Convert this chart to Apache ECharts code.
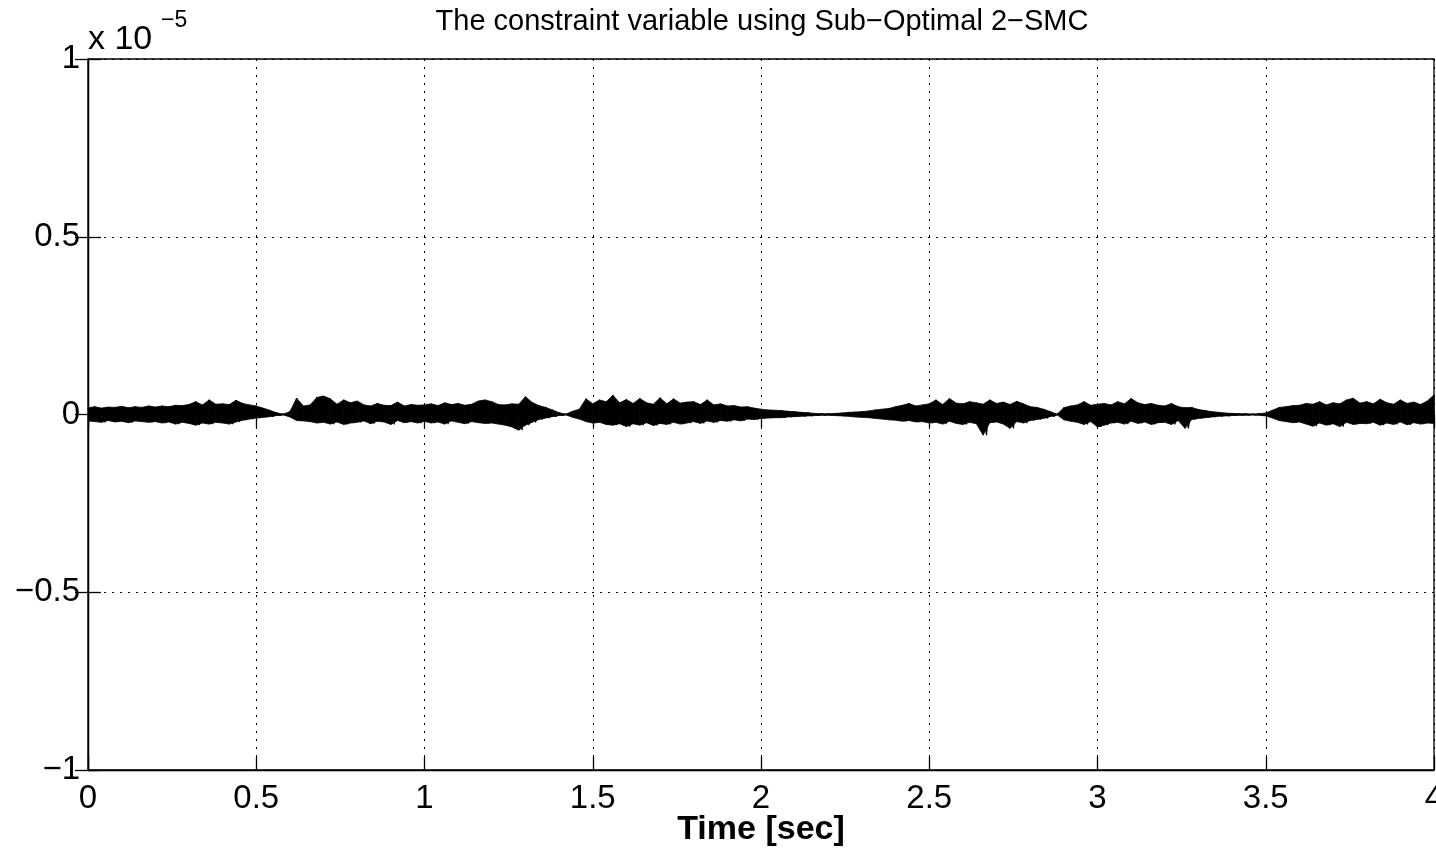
<!DOCTYPE html>
<html><head><meta charset="utf-8">
<script src="https://cdn.jsdelivr.net/npm/echarts@6/dist/echarts.min.js"></script>
<style>html,body{margin:0;padding:0;background:#fff}#c{width:1436px;height:850px}</style>
</head><body><div id="c"></div>
<script>
// ---- data ----
const titleText = 'The constraint variable using Sub\u2212Optimal 2\u2212SMC';
const xAxisName = 'Time [sec]';
const xTicks = [0, 0.5, 1, 1.5, 2, 2.5, 3, 3.5, 4];
const xTickLabels = ['0', '0.5', '1', '1.5', '2', '2.5', '3', '3.5', '4'];
// y values are stored in units of 0.001 x 10^-5
const yTicks = [-1000, -500, 0, 500, 1000];
const yTickLabels = ['\u22121', '\u22120.5', '0', '0.5', '1'];
const yScaleBase = 'x 10';
const yScaleExp = '\u22125';
const sampleStep = 0.02; // seconds between envelope readings
// upper swing of the oscillating constraint variable, read every 0.02 s
const upperEnv = [
  19, 22, 18, 21, 20, 23, 19, 22, 20, 24,
  21, 24, 22, 26, 25, 28, 36, 27, 41, 29,
  30, 28, 40, 31, 27, 24, 18, 12, 5, 1,
  8, 46, 24, 27, 48, 52, 44, 29, 41, 33,
  38, 27, 24, 31, 26, 25, 35, 24, 28, 26,
  27, 30, 25, 33, 28, 31, 26, 29, 38, 41,
  36, 28, 27, 30, 29, 50, 34, 25, 20, 13,
  5, 1, 9, 15, 44, 30, 41, 36, 54, 33,
  42, 31, 45, 33, 29, 47, 30, 44, 32, 35,
  36, 28, 41, 27, 30, 24, 25, 21, 22, 18,
  15, 13, 12, 11, 9, 8, 6, 5, 3, 2,
  2, 3, 4, 6, 7, 8, 10, 13, 15, 17,
  22, 26, 31, 24, 27, 30, 41, 28, 45, 32,
  30, 36, 33, 29, 41, 31, 35, 28, 37, 30,
  22, 20, 15, 8, 1, 19, 24, 27, 36, 26,
  29, 31, 27, 36, 30, 45, 33, 28, 31, 26,
  24, 31, 22, 19, 20, 14, 11, 8, 6, 4,
  3, 2, 2, 1, 2, 4, 12, 20, 22, 25,
  26, 31, 29, 36, 27, 33, 30, 41, 46, 32,
  36, 30, 43, 33, 29, 41, 31, 35, 28, 38,
  55
];
// lower swing, read every 0.02 s
const lowerEnv = [
  -18, -20, -22, -17, -21, -19, -23, -18, -20, -22,
  -20, -24, -21, -27, -22, -25, -30, -24, -27, -22,
  -24, -27, -21, -16, -13, -10, -8, -6, -3, -1,
  -7, -17, -18, -20, -24, -22, -27, -21, -28, -24,
  -22, -18, -26, -19, -21, -28, -17, -23, -20, -24,
  -19, -24, -21, -27, -18, -22, -26, -20, -23, -25,
  -24, -27, -30, -35, -44, -30, -22, -14, -10, -6,
  -3, -1, -8, -13, -20, -24, -22, -28, -30, -26,
  -34, -26, -30, -23, -31, -25, -28, -22, -27, -24,
  -20, -25, -18, -22, -17, -19, -15, -18, -13, -14,
  -11, -10, -9, -9, -7, -6, -5, -4, -3, -2,
  -2, -3, -4, -5, -7, -8, -9, -11, -13, -15,
  -16, -19, -17, -21, -20, -24, -22, -27, -19, -25,
  -28, -22, -26, -58, -23, -21, -27, -39, -20, -24,
  -17, -14, -11, -6, -1, -15, -19, -22, -28, -20,
  -35, -30, -24, -22, -27, -19, -25, -21, -28, -23,
  -22, -28, -17, -39, -14, -11, -9, -7, -5, -4,
  -3, -2, -2, -1, -2, -4, -10, -17, -20, -23,
  -21, -27, -33, -24, -30, -26, -34, -22, -28, -25,
  -26, -22, -30, -24, -28, -21, -29, -23, -27, -24,
  -25
];

// ---- build series data from the readings ----
const times = upperEnv.map((_, i) => +(i * sampleStep).toFixed(4));
// each band piece joins reading i to reading i+1: [t0, lo0, hi0, t1, lo1, hi1]
const bandData = times.slice(0, -1).map((t, i) =>
  [t, lowerEnv[i], upperEnv[i], times[i + 1], lowerEnv[i + 1], upperEnv[i + 1]]);
const trace = [];
for (let i = 0; i < upperEnv.length; i++) {
  trace.push([times[i], upperEnv[i]]);
  trace.push([Math.min(4, +(times[i] + sampleStep / 2).toFixed(4)), lowerEnv[i]]);
}

const FONT = '"Liberation Sans", Arial, Helvetica, sans-serif';
const dotted = { color: '#000', type: [2, 6], width: 1 };
const tickStyle = { show: true, inside: true, length: 13, lineStyle: { color: '#000', width: 1.3 } };

const chart = echarts.init(document.getElementById('c'), null, { renderer: 'canvas' });
chart.setOption({
  animation: false,
  backgroundColor: '#fff',
  grid: { left: 88, right: 2, top: 59, bottom: 80, containLabel: false, outerBoundsMode: 'none',
    show: true, borderColor: '#000', borderWidth: 1.3, backgroundColor: 'transparent' },
  graphic: [
    { type: 'text', x: 762, y: 22, style: { text: titleText, font: '29px ' + FONT, fill: '#000', align: 'center', verticalAlign: 'middle' } },
    { type: 'text', x: 88, y: 40, style: { text: yScaleBase, font: '34px ' + FONT, fill: '#000', align: 'left', verticalAlign: 'middle' } },
    { type: 'text', x: 161, y: 21, style: { text: yScaleExp, font: '23px ' + FONT, fill: '#000', align: 'left', verticalAlign: 'middle' } },
    { type: 'text', x: 761, y: 830, style: { text: xAxisName, font: 'bold 34px ' + FONT, fill: '#000', align: 'center', verticalAlign: 'middle' } }
  ],
  xAxis: [{
    type: 'value', min: xTicks[0], max: xTicks[xTicks.length - 1], interval: 0.5,
    axisLine: { show: true, onZero: false, lineStyle: { color: '#000', width: 1.3 } },
    axisTick: tickStyle,
    axisLabel: { show: true, margin: 12, fontFamily: FONT, fontSize: 33, color: '#000', showMinLabel: true, showMaxLabel: true, hideOverlap: false,
      formatter: v => { const k = xTicks.indexOf(+v.toFixed(4)); return k >= 0 ? xTickLabels[k] : ''; } },
    splitLine: { show: true, lineStyle: dotted }
  }, {
    type: 'value', position: 'top', min: xTicks[0], max: xTicks[xTicks.length - 1], interval: 0.5,
    axisLine: { show: true, lineStyle: { color: '#000', width: 1.3 } },
    axisTick: tickStyle, axisLabel: { show: false }, splitLine: { show: false }
  }],
  yAxis: [{
    type: 'value', min: yTicks[0], max: yTicks[yTicks.length - 1], interval: 500,
    axisLine: { show: true, onZero: false, lineStyle: { color: '#000', width: 1.3 } },
    axisTick: tickStyle,
    axisLabel: { show: true, margin: 8, fontFamily: FONT, fontSize: 33, color: '#000', showMinLabel: true, showMaxLabel: true, hideOverlap: false,
      formatter: v => { const k = yTicks.indexOf(v); return k >= 0 ? yTickLabels[k] : ''; } },
    splitLine: { show: true, lineStyle: dotted }
  }, {
    type: 'value', position: 'right', min: yTicks[0], max: yTicks[yTicks.length - 1], interval: 500,
    axisLine: { show: true, lineStyle: { color: '#000', width: 1.3 } },
    axisTick: tickStyle, axisLabel: { show: false }, splitLine: { show: false }
  }],
  series: [{
    name: 'band', type: 'custom', xAxisIndex: 0, yAxisIndex: 0, clip: true, z: 5,
    data: bandData,
    dimensions: ['t0', 'lo0', 'hi0', 't1', 'lo1', 'hi1'],
    encode: { x: [0, 3], y: [1, 2, 4, 5] },
    renderItem: (params, api) => {
      const a = api.coord([api.value(0), api.value(1)]);
      const b = api.coord([api.value(0), api.value(2)]);
      const c = api.coord([api.value(3), api.value(5)]);
      const d = api.coord([api.value(3), api.value(4)]);
      return { type: 'polygon', shape: { points: [a, b, c, d] },
        style: { fill: '#000', stroke: '#000', lineWidth: 0.8 } };
    }
  }, {
    name: 'trace', type: 'line', data: trace, showSymbol: false, symbol: 'none',
    lineStyle: { color: '#000', width: 1.2 }, z: 6
  }]
});
</script>
</body></html>
